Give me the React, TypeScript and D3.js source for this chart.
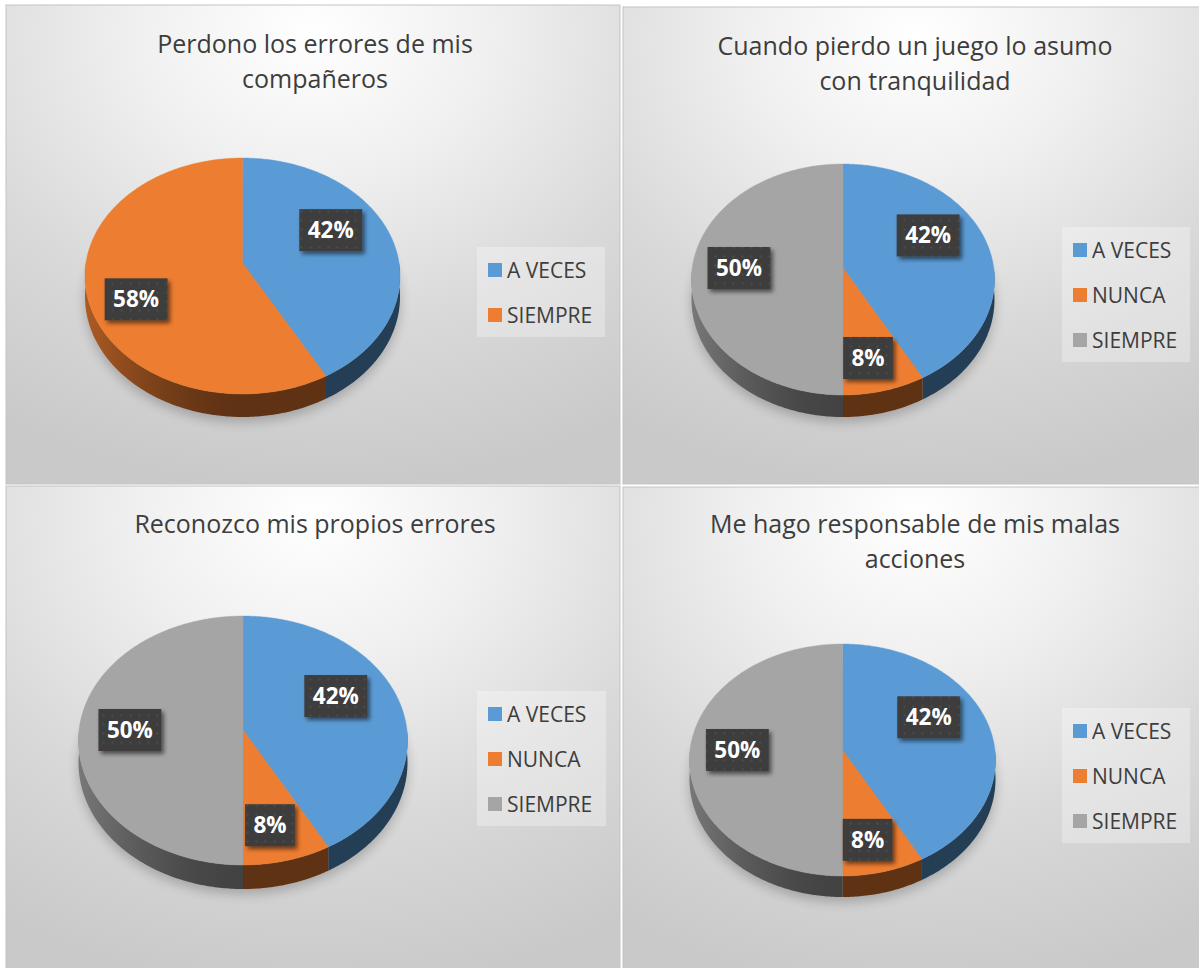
import React from "react";
import * as d3 from "d3";

// ---------- DATA ----------
const SERIES_TWO = ["A VECES", "SIEMPRE"];
const SERIES_THREE = ["A VECES", "NUNCA", "SIEMPRE"];
const VALUES_PERDONO = [42, 58];
const VALUES_CUANDO = [42, 8, 50];
const VALUES_RECONOZCO = [42, 8, 50];
const VALUES_RESPONSABLE = [42, 8, 50];
const TITLE_PERDONO = ["Perdono los errores de mis", "compañeros"];
const TITLE_CUANDO = ["Cuando pierdo un juego lo asumo", "con tranquilidad"];
const TITLE_RECONOZCO = ["Reconozco mis propios errores"];
const TITLE_RESPONSABLE = ["Me hago responsable de mis malas", "acciones"];
const SLICE_COLORS = ["#5b9bd5", "#ed7d31", "#a5a5a5"];

// ---------- LAYOUT ----------
type PieLayout = { cx: number; cy: number; hw: number; far: number; near: number; depth: number };
type PanelCfg = {
  id: string;
  title: string[];
  cats: string[];
  values: number[];
  box: { x: number; y: number; w: number; h: number };
  titleX: number;
  titleY: number;
  pie: PieLayout;
  legend: { x: number; y: number; w: number };
};

const PANELS: PanelCfg[] = [
  {
    id: "p1", title: TITLE_PERDONO, cats: SERIES_TWO, values: VALUES_PERDONO,
    box: { x: 6, y: 5, w: 614, h: 479 }, titleX: 315, titleY: 53,
    pie: { cx: 242.5, cy: 263, hw: 157.5, far: 105, near: 131, depth: 23 },
    legend: { x: 477, y: 247, w: 128 },
  },
  {
    id: "p2", title: TITLE_CUANDO, cats: SERIES_THREE, values: VALUES_CUANDO,
    box: { x: 623, y: 7, w: 590, h: 477 }, titleX: 915, titleY: 55,
    pie: { cx: 843, cy: 268, hw: 151.5, far: 104, near: 127, depth: 22 },
    legend: { x: 1062, y: 227, w: 128 },
  },
  {
    id: "p3", title: TITLE_RECONOZCO, cats: SERIES_THREE, values: VALUES_RECONOZCO,
    box: { x: 6, y: 486, w: 614, h: 500 }, titleX: 315, titleY: 533,
    pie: { cx: 243, cy: 730, hw: 164.5, far: 114, near: 135, depth: 24 },
    legend: { x: 477, y: 691, w: 129 },
  },
  {
    id: "p4", title: TITLE_RESPONSABLE, cats: SERIES_THREE, values: VALUES_RESPONSABLE,
    box: { x: 623, y: 487, w: 590, h: 500 }, titleX: 915, titleY: 533,
    pie: { cx: 842.5, cy: 750, hw: 153, far: 106, near: 126, depth: 21 },
    legend: { x: 1062, y: 708, w: 128 },
  },
];

const FONT = "'Open Sans', 'Noto Sans', sans-serif";
const TEXT_COLOR = "#3d3d3d";

function shade(hex: string, f: number) {
  const c = d3.rgb(hex);
  return d3.rgb(c.r * f, c.g * f, c.b * f).formatHex();
}

function makeProjector(p: PieLayout) {
  const k = (p.near - p.far) / (p.near + p.far);
  const sy = p.far * (1 + k);
  const sx = p.hw * Math.sqrt(1 - k * k);
  const t = p.depth * (1 - k);
  return (theta: number, r: number, h: number): [number, number] => {
    const c = Math.cos(theta);
    const s = Math.sin(theta);
    const w = 1 + k * c * r;
    return [p.cx + (sx * s * r) / w, p.cy + (-sy * c * r + h * t) / w];
  };
}

function arcPoints(proj: (a: number, r: number, h: number) => [number, number], a0: number, a1: number, h: number) {
  const step = Math.PI / 240;
  const n = Math.max(2, Math.ceil((a1 - a0) / step) + 1);
  const pts: [number, number][] = [];
  for (let i = 0; i < n; i++) {
    const a = a0 + ((a1 - a0) * i) / (n - 1);
    pts.push(proj(a, 1, h));
  }
  return pts;
}

const line = d3.line<[number, number]>().curve(d3.curveLinearClosed);

function Panel({ p }: { p: PanelCfg }) {
  const proj = makeProjector(p.pie);
  const arcs = d3.pie<number>().sort(null).startAngle(0).endAngle(2 * Math.PI)(p.values);
  const total = d3.sum(p.values);
  const color = d3.scaleOrdinal<number, string>().domain(d3.range(SLICE_COLORS.length)).range(SLICE_COLORS);

  const shadowPts = arcPoints(proj, 0, 2 * Math.PI, 1);

  const sides = arcs
    .map((a, i) => {
      const lo = Math.max(a.startAngle, Math.PI / 2);
      const hi = Math.min(a.endAngle, (3 * Math.PI) / 2);
      if (hi <= lo) return null;
      const top = arcPoints(proj, lo, hi, 0);
      const bot = arcPoints(proj, lo, hi, 1).reverse();
      return { i, d: line([...top, ...bot]) as string };
    })
    .filter(Boolean) as { i: number; d: string }[];

  const tops = arcs.map((a, i) => {
    const pts = [proj(0, 0, 0), ...arcPoints(proj, a.startAngle, a.endAngle, 0)];
    return { i, d: line(pts) as string };
  });

  const labels = arcs.map((a, i) => {
    const mid = (a.startAngle + a.endAngle) / 2;
    const r = 0.64 - 0.05 * Math.sin(mid);
    const c = Math.cos(mid);
    const s = Math.sin(mid);
    const k = (p.pie.near - p.pie.far) / (p.pie.near + p.pie.far);
    const sy = p.pie.far * (1 + k);
    const sx = p.pie.hw * Math.sqrt(1 - k * k);
    const w = 1 + k * c * r;
    const x = p.pie.cx + (sx * s * r) / w;
    const y = p.pie.cy - (sy * c * r) / w - 16 * Math.tanh(c * 20);
    const text = `${Math.round((a.value / total) * 100)}%`;
    const digits = text.length - 1;
    const bw = digits * 13.2 + 19.5 + 17;
    return { i, x, y, text, bw };
  });

  const gx0 = p.pie.cx - p.pie.hw;
  const gx1 = p.pie.cx;
  const stops = d3.range(0, 1.0001, 0.125);

  return (
    <g>
      <defs>
        <radialGradient id={`bg-${p.id}`} cx="0.5" cy="0.06" r="0.95" fx="0.5" fy="0.06">
          <stop offset="0" stopColor="#ffffff" />
          <stop offset="0.3" stopColor="#f0f0f0" />
          <stop offset="0.65" stopColor="#d9d9d9" />
          <stop offset="1" stopColor="#c9c9c9" />
        </radialGradient>
        {arcs.map((a, i) => (
          <linearGradient key={i} id={`side-${p.id}-${i}`} gradientUnits="userSpaceOnUse" x1={gx0} y1={0} x2={gx1} y2={0}>
            {stops.map((u) => (
              <stop key={u} offset={u} stopColor={shade(color(i), 0.4 + 0.33 * Math.pow(1 - u, 1.7))} />
            ))}
          </linearGradient>
        ))}
      </defs>
      <rect x={p.box.x} y={p.box.y} width={p.box.w} height={p.box.h} fill={`url(#bg-${p.id})`} stroke="#c4c4c4" strokeWidth={1} />
      {p.title.map((t, j) => (
        <text key={j} x={p.titleX} y={p.titleY + j * 35} textAnchor="middle" fontSize={25} fill={TEXT_COLOR} fontFamily={FONT}>
          {t}
        </text>
      ))}
      {/* pie shadow */}
      <path d={line(shadowPts) as string} transform="translate(0,5)" fill="#000" opacity={0.22} filter="url(#softShadow)" />
      {sides.map((s) => (
        <path key={`s${s.i}`} d={s.d} fill={`url(#side-${p.id}-${s.i})`} />
      ))}
      {tops.map((t) => (
        <path key={`t${t.i}`} d={t.d} fill={color(t.i)} stroke={color(t.i)} strokeWidth={0.4} />
      ))}
      {labels.map((l) => (
        <g key={`l${l.i}`}>
          <rect x={l.x - l.bw / 2} y={l.y - 21} width={l.bw} height={42} fill="url(#dots)" filter="url(#labelShadow)" />
          <text x={l.x} y={l.y + 8} textAnchor="middle" fontSize={22.5} fontWeight={700} fill="#ffffff" fontFamily={FONT}>
            {l.text}
          </text>
        </g>
      ))}
      {/* legend */}
      <rect x={p.legend.x} y={p.legend.y} width={p.legend.w} height={45 * p.cats.length} fill="#ffffff" opacity={0.3} />
      {p.cats.map((c, i) => {
        const cyRow = p.legend.y + 23 + i * 45;
        return (
          <g key={c}>
            <rect x={p.legend.x + 11} y={cyRow - 7} width={14} height={14} fill={color(i)} />
            <text x={p.legend.x + 30} y={cyRow + 7.5} fontSize={21} fill={TEXT_COLOR} fontFamily={FONT}>
              {c}
            </text>
          </g>
        );
      })}
    </g>
  );
}

export default function App() {
  return (
    <svg width={1199} height={968} style={{ position: "absolute", left: 0, top: 0, display: "block" }}>
      <defs>
        <pattern id="dots" patternUnits="userSpaceOnUse" width={9} height={9}>
          <rect width={9} height={9} fill="#3d3d3d" />
          <circle cx={4.5} cy={4.5} r={1} fill="#4d4d4d" />
        </pattern>
        <filter id="labelShadow" x="-30%" y="-30%" width="160%" height="170%">
          <feDropShadow dx={2.5} dy={3} stdDeviation={2.2} floodColor="#000" floodOpacity={0.55} />
        </filter>
        <filter id="softShadow" x="-20%" y="-20%" width="140%" height="140%">
          <feGaussianBlur stdDeviation={6} />
        </filter>
      </defs>
      <rect width={1199} height={968} fill="#ffffff" />
      {PANELS.map((p) => (
        <Panel key={p.id} p={p} />
      ))}
    </svg>
  );
}
